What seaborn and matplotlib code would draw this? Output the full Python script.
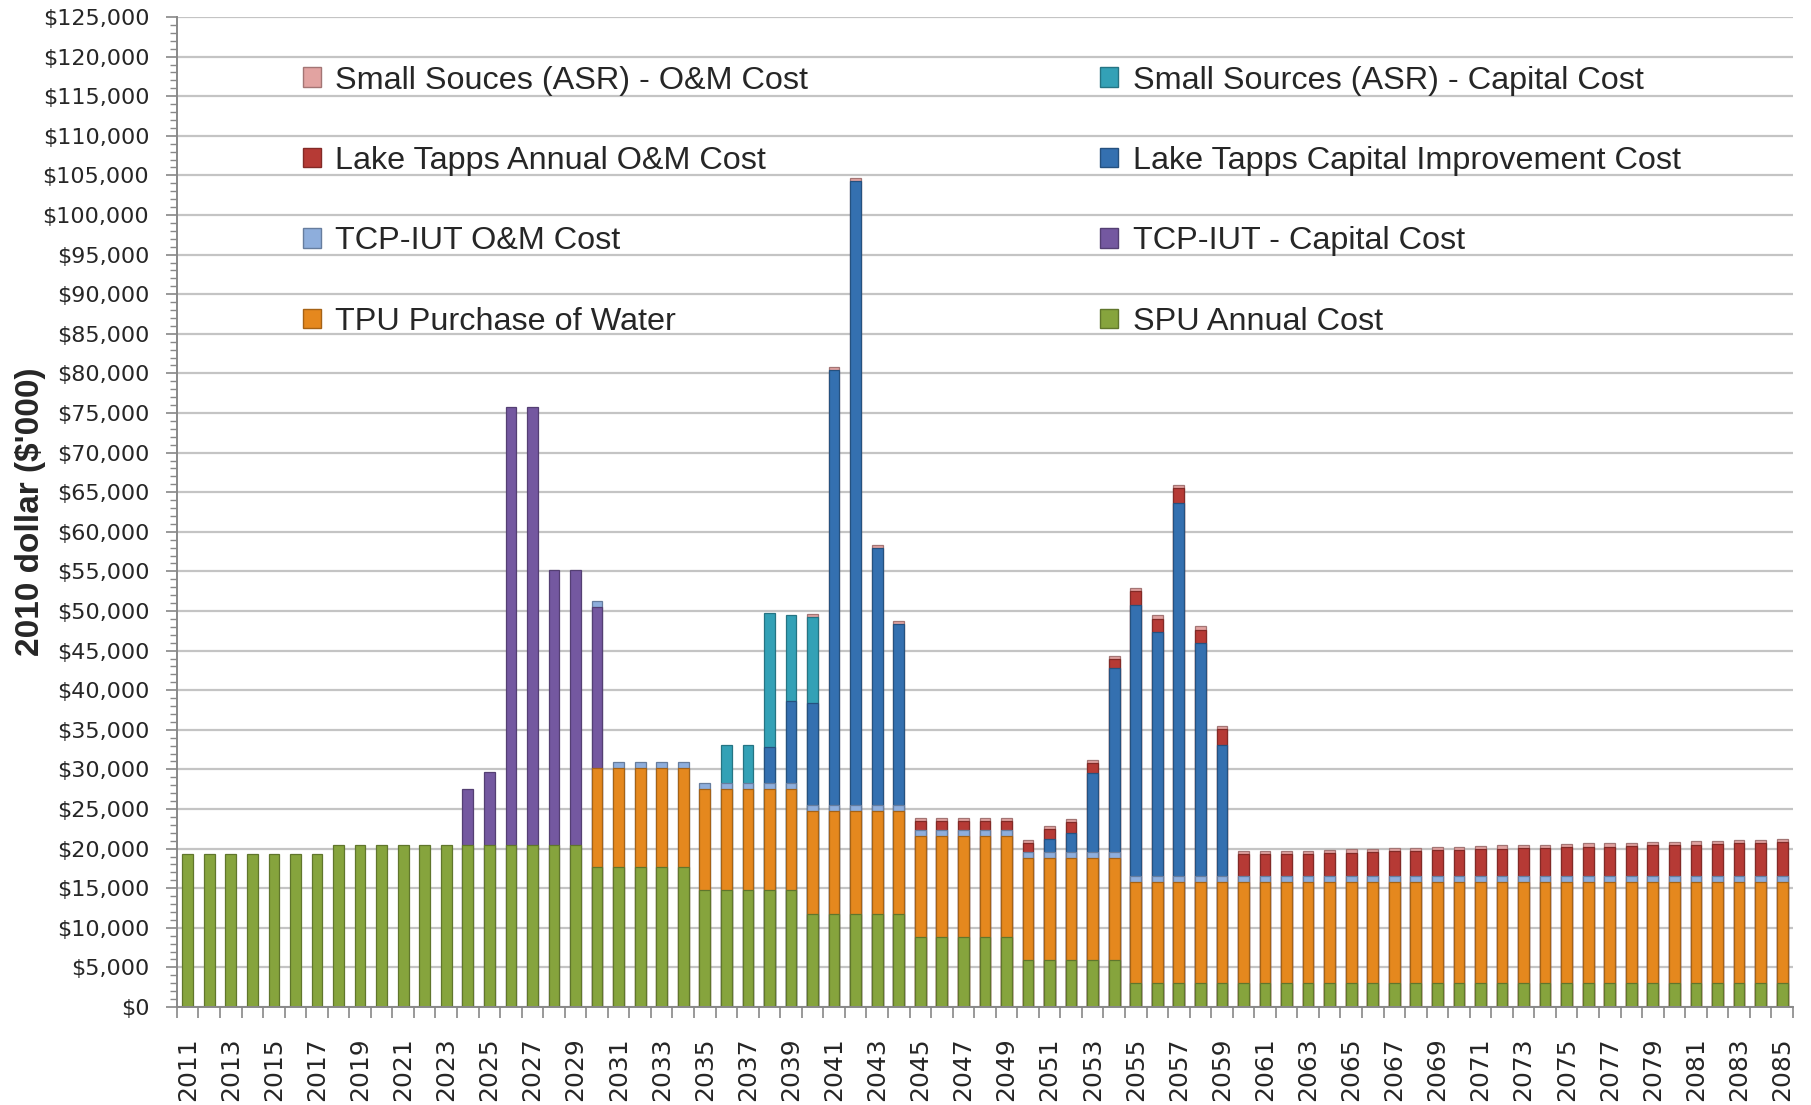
import numpy as np
import pandas as pd
import matplotlib
matplotlib.use("Agg")
import matplotlib.pyplot as plt
from matplotlib import font_manager
from matplotlib.colors import to_rgb
from matplotlib.patches import Patch
from matplotlib.ticker import FuncFormatter, MultipleLocator
import seaborn as sns

years = list(range(2011, 2086))

spu_annual = [
    19300, 19300, 19300, 19300, 19300, 19300, 19300,
    20500, 20500, 20500, 20500, 20500, 20500, 20500, 20500, 20500, 20500, 20500, 20500,
    17650, 17650, 17650, 17650, 17650,
    14800, 14800, 14800, 14800, 14800,
    11800, 11800, 11800, 11800, 11800,
    8900, 8900, 8900, 8900, 8900,
    5900, 5900, 5900, 5900, 5900,
    3000, 3000, 3000, 3000, 3000, 3000, 3000, 3000, 3000, 3000,
    3000, 3000, 3000, 3000, 3000, 3000, 3000, 3000, 3000, 3000,
    3000, 3000, 3000, 3000, 3000, 3000, 3000, 3000, 3000, 3000, 3000,
]
tpu_purchase = [
    0, 0, 0, 0, 0, 0, 0, 0, 0, 0, 0, 0, 0, 0, 0, 0, 0, 0, 0,
    12500, 12500, 12500, 12500, 12500,
    12700, 12700, 12700, 12700, 12700,
    12900, 12900, 12900, 12900, 12900,
    12700, 12700, 12700, 12700, 12700,
    12850, 12850, 12850, 12850, 12850,
    12800, 12800, 12800, 12800, 12800, 12800, 12800, 12800, 12800, 12800,
    12800, 12800, 12800, 12800, 12800, 12800, 12800, 12800, 12800, 12800,
    12800, 12800, 12800, 12800, 12800, 12800, 12800, 12800, 12800, 12800, 12800,
]
tcp_capital = [
    0, 0, 0, 0, 0, 0, 0, 0, 0, 0, 0, 0, 0,
    7060, 9130, 55300, 55300, 34670, 34670, 20370,
    0, 0, 0, 0, 0, 0, 0, 0, 0, 0, 0, 0, 0, 0, 0, 0, 0, 0, 0, 0,
    0, 0, 0, 0, 0, 0, 0, 0, 0, 0, 0, 0, 0, 0, 0, 0, 0, 0, 0, 0,
    0, 0, 0, 0, 0, 0, 0, 0, 0, 0, 0, 0, 0, 0, 0,
]
tcp_om = [
    0, 0, 0, 0, 0, 0, 0, 0, 0, 0, 0, 0, 0, 0, 0, 0, 0, 0, 0,
    800, 800, 800, 800, 800, 800, 800, 800, 800, 800,
    800, 800, 800, 800, 800, 800, 800, 800, 800, 800,
    800, 800, 800, 800, 800, 800, 800, 800, 800, 800,
    800, 800, 800, 800, 800, 800, 800, 800, 800, 800,
    800, 800, 800, 800, 800, 800, 800, 800, 800, 800,
    800, 800, 800, 800, 800, 800,
]
lt_capital = [
    0, 0, 0, 0, 0, 0, 0, 0, 0, 0, 0, 0, 0, 0, 0, 0, 0, 0, 0, 0,
    0, 0, 0, 0, 0, 0, 0,
    4500, 10300, 12900, 54900, 78800, 32400, 22800,
    0, 0, 0, 0, 0, 0,
    1600, 2450, 10000, 23200, 34100, 30700, 47000, 29300, 16500,
    0, 0, 0, 0, 0, 0, 0, 0, 0, 0, 0, 0, 0,
    0, 0, 0, 0, 0, 0, 0, 0, 0, 0, 0, 0, 0,
]
lt_om = [
    0, 0, 0, 0, 0, 0, 0, 0, 0, 0, 0, 0, 0, 0, 0, 0, 0,
    0, 0, 0, 0, 0, 0, 0, 0, 0, 0, 0, 0, 0, 0, 0, 0, 0,
    1100, 1100, 1100, 1100, 1100,
    1150, 1300, 1300, 1250, 1200, 1850, 1750, 1950, 1750, 2000,
    2700, 2700, 2750, 2750, 2850, 2900, 3000, 3100, 3100, 3200,
    3250, 3350, 3400, 3450, 3450, 3600, 3650, 3650, 3750, 3800,
    3850, 3900, 4000, 4100, 4100, 4200,
]
asr_capital = [
    0, 0, 0, 0, 0, 0, 0, 0, 0, 0, 0, 0, 0, 0, 0, 0, 0, 0, 0, 0,
    0, 0, 0, 0, 0,
    4800, 4800, 17000, 10900, 10800,
    0, 0, 0, 0, 0, 0, 0, 0, 0, 0, 0, 0, 0, 0, 0,
    0, 0, 0, 0, 0, 0, 0, 0, 0, 0, 0, 0, 0, 0, 0,
    0, 0, 0, 0, 0, 0, 0, 0, 0, 0, 0, 0, 0, 0, 0,
]
asr_om = [
    0, 0, 0, 0, 0, 0, 0, 0, 0, 0, 0, 0, 0, 0, 0, 0, 0, 0, 0, 0,
    0, 0, 0, 0, 0, 0, 0, 0, 0,
    400, 400, 400, 400, 400, 400, 400, 400, 400, 400,
    400, 400, 400, 400, 400, 400, 400, 400, 400, 400,
    400, 400, 400, 400, 400, 400, 400, 400, 400, 400,
    400, 400, 400, 400, 400, 400, 400, 400, 400, 400,
    400, 400, 400, 400, 400, 400,
]

series_names = [
    "SPU Annual Cost",
    "TPU Purchase of Water",
    "TCP-IUT - Capital Cost",
    "TCP-IUT O&M Cost",
    "Lake Tapps Capital Improvement Cost",
    "Lake Tapps Annual O&M Cost",
    "Small Sources (ASR) - Capital Cost",
    "Small Souces (ASR) - O&M Cost",
]
series_values = [spu_annual, tpu_purchase, tcp_capital, tcp_om,
                 lt_capital, lt_om, asr_capital, asr_om]
series_colors = ["#86A43D", "#E5881E", "#7458A0", "#8EAEDC",
                 "#3470B0", "#B63A35", "#33A1B6", "#E2A3A1"]


def darker(c, f=0.72):
    r, g, b = to_rgb(c)
    return (r * f, g * f, b * f)


# fonts
sns.set_theme(style="white")
avail = {f.name for f in font_manager.fontManager.ttflist}
narrow = "Liberation Sans Narrow" if "Liberation Sans Narrow" in avail else "Liberation Sans"
plt.rcParams["font.family"] = ["DejaVu Sans"]

fig = plt.figure(figsize=(18.11, 11.05), dpi=100)
ax = fig.add_axes([0.0977, 0.0887, 0.8923, 0.8959])

year_labels = [str(y) for y in years]
cum = np.zeros(len(years))
cums = []
for vals in series_values:
    cum = cum + np.array(vals, dtype=float)
    cums.append(cum.copy())

# draw from top layer down so lower layers overlay; only where segment > 0
for vals, c, color in reversed(list(zip(series_values, cums, series_colors))):
    df = pd.DataFrame({"year": year_labels, "value": c, "seg": vals})
    df = df[df["seg"] > 0]
    sns.barplot(data=df, x="year", y="value", order=year_labels, color=color,
                saturation=1, width=0.5, errorbar=None, linewidth=0.9,
                edgecolor=darker(color), ax=ax)

ax.set_xlim(-0.5, len(years) - 0.5)
ax.set_ylim(0, 125000)
ax.yaxis.set_major_locator(MultipleLocator(5000))
ax.yaxis.set_minor_locator(MultipleLocator(1000))
ax.yaxis.set_major_formatter(FuncFormatter(lambda v, p: f"${int(v):,}"))
ax.grid(axis="y", which="major", color="#C4C4C4", linewidth=1.6)
ax.grid(axis="x", visible=False)
ax.set_axisbelow(True)

ax.set_xticks(range(0, len(years), 2))
ax.set_xticklabels(year_labels[::2], rotation=90, fontsize=18)
ax.set_xticks(np.arange(-0.5, len(years), 1), minor=True)
ax.tick_params(axis="x", which="major", length=0, pad=22)
ax.tick_params(axis="x", which="minor", length=8, width=1.2, color="#888888",
               direction="out", bottom=True)
ax.tick_params(axis="y", which="major", length=8, width=1.2, color="#888888",
               direction="out", left=True, labelsize=16, pad=12)
ax.tick_params(axis="y", which="minor", length=5, width=1.0, color="#888888",
               direction="out", left=True)

for s in ["top", "right"]:
    ax.spines[s].set_visible(False)
for s in ["left", "bottom"]:
    ax.spines[s].set_color("#888888")
    ax.spines[s].set_linewidth(1.4)

ax.set_xlabel("")
ax.set_ylabel("2010 dollar ($'000)", fontsize=24, fontweight="bold",
              family=[narrow, "DejaVu Sans"])
ax.yaxis.set_label_coords(-0.081, 0.5)

handles = {n: Patch(facecolor=c, edgecolor=darker(c), linewidth=1.0)
           for n, c in zip(series_names, series_colors)}
left_col = ["Small Souces (ASR) - O&M Cost", "Lake Tapps Annual O&M Cost",
            "TCP-IUT O&M Cost", "TPU Purchase of Water"]
right_col = ["Small Sources (ASR) - Capital Cost", "Lake Tapps Capital Improvement Cost",
             "TCP-IUT - Capital Cost", "SPU Annual Cost"]
leg_kw = dict(frameon=False, loc="upper left", borderpad=0, borderaxespad=0,
              handlelength=0.55, handleheight=0.55, handletextpad=0.45,
              labelspacing=1.56, prop={"family": [narrow, "DejaVu Sans"], "size": 23.3})
leg1 = ax.legend([handles[n] for n in left_col], left_col,
                 bbox_to_anchor=(0.078, 0.951), **leg_kw)
ax.add_artist(leg1)
ax.legend([handles[n] for n in right_col], right_col,
          bbox_to_anchor=(0.5715, 0.951), **leg_kw)

fig.savefig("out.png", dpi=100, facecolor="white")
